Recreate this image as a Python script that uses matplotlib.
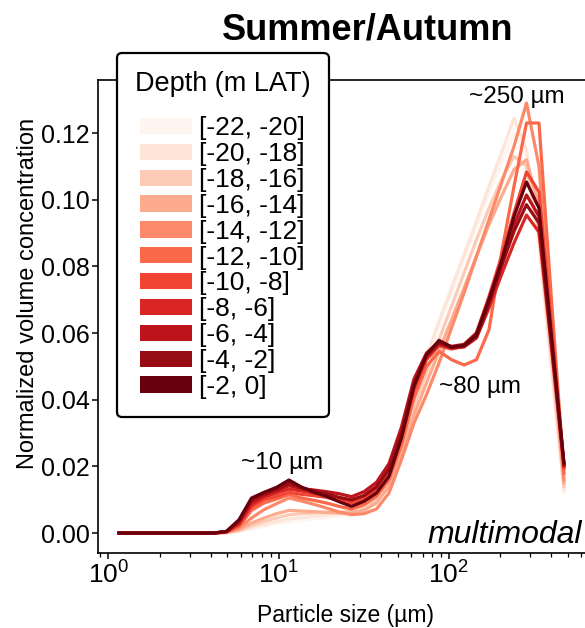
import matplotlib
matplotlib.use("Agg")
import matplotlib.pyplot as plt
from matplotlib.patches import Patch
import numpy as np

plt.rcParams['font.family'] = ['Liberation Sans', 'DejaVu Sans']
plt.rcParams['mathtext.default'] = 'regular'

# particle size bins (um)
sizes = [1.157, 1.279, 1.514, 1.794, 2.124, 2.515, 2.978, 3.526, 4.176, 4.945,
         5.856, 6.935, 8.210, 9.72, 11.51, 13.63, 16.14, 19.11, 22.63, 26.80,
         31.73, 37.57, 44.49, 52.68, 62.39, 73.87, 87.48, 103.6, 122.7, 145.2,
         172.0, 203.7, 241.2, 285.6, 338.1, 400.4, 474.1]

depth_bins = ['[-22, -20]', '[-20, -18]', '[-18, -16]', '[-16, -14]', '[-14, -12]',
              '[-12, -10]', '[-10, -8]', '[-8, -6]', '[-6, -4]', '[-4, -2]', '[-2, 0]']

# normalized volume concentration per depth bin (deepest first)
vc_22_20 = [0, 0, 0, 0, 0, 0, 0, 0, 0,
            0.0001, 0.0004, 0.0012, 0.0020, 0.0028, 0.0034, 0.0038, 0.0042, 0.0046, 0.0050,
            0.0055, 0.0068, 0.0098, 0.0160, 0.0275, 0.0400, 0.0515, 0.0620, 0.0720, 0.0820,
            0.0920, 0.1020, 0.1110, 0.1200, 0.1120, 0.0850, 0.0480, 0.0120]
vc_20_18 = [0, 0, 0, 0, 0, 0, 0, 0, 0,
            0.0001, 0.0006, 0.0016, 0.0026, 0.0034, 0.0042, 0.0046, 0.0050, 0.0054, 0.0058,
            0.0062, 0.0074, 0.0105, 0.0165, 0.0280, 0.0410, 0.0530, 0.0635, 0.0735, 0.0835,
            0.0935, 0.1040, 0.1140, 0.1245, 0.1150, 0.0880, 0.0500, 0.0130]
vc_18_16 = [0, 0, 0, 0, 0, 0, 0, 0, 0,
            0.0001, 0.0008, 0.0022, 0.0035, 0.0045, 0.0055, 0.0058, 0.0060, 0.0062, 0.0063,
            0.0065, 0.0075, 0.0100, 0.0155, 0.0260, 0.0380, 0.0480, 0.0580, 0.0680, 0.0780,
            0.0880, 0.0975, 0.1060, 0.1130, 0.1100, 0.0900, 0.0520, 0.0140]
vc_16_14 = [0, 0, 0, 0, 0, 0, 0, 0, 0,
            0.0002, 0.0010, 0.0030, 0.0045, 0.0058, 0.0068, 0.0066, 0.0064, 0.0062, 0.0060,
            0.0060, 0.0068, 0.0090, 0.0140, 0.0240, 0.0355, 0.0450, 0.0545, 0.0640, 0.0735,
            0.0830, 0.0925, 0.1010, 0.1090, 0.1120, 0.0980, 0.0560, 0.0150]
vc_14_12 = [0, 0, 0, 0, 0, 0, 0, 0, 0,
            0.0002, 0.0015, 0.0045, 0.0070, 0.0088, 0.0105, 0.0096, 0.0086, 0.0075, 0.0063,
            0.0055, 0.0058, 0.0072, 0.0120, 0.0220, 0.0330, 0.0415, 0.0510, 0.0615, 0.0720,
            0.0830, 0.0940, 0.1050, 0.1160, 0.1290, 0.1100, 0.0620, 0.0160]
vc_12_10 = [0, 0, 0, 0, 0, 0, 0, 0, 0,
            0.0003, 0.0020, 0.0068, 0.0090, 0.0102, 0.0115, 0.0105, 0.0098, 0.0090, 0.0080,
            0.0072, 0.0085, 0.0110, 0.0160, 0.0265, 0.0405, 0.0500, 0.0545, 0.0520, 0.0504,
            0.0520, 0.0610, 0.0840, 0.1040, 0.1230, 0.1230, 0.0700, 0.0180]
vc_10_8 = [0, 0, 0, 0, 0, 0, 0, 0, 0,
           0.0003, 0.0024, 0.0078, 0.0100, 0.0110, 0.0122, 0.0116, 0.0112, 0.0107, 0.0098,
           0.0090, 0.0102, 0.0128, 0.0180, 0.0285, 0.0428, 0.0520, 0.0562, 0.0552, 0.0560,
           0.0600, 0.0710, 0.0830, 0.0960, 0.1083, 0.1023, 0.0620, 0.0195]
vc_8_6 = [0, 0, 0, 0, 0, 0, 0, 0, 0,
          0.0004, 0.0028, 0.0085, 0.0108, 0.0120, 0.0132, 0.0126, 0.0120, 0.0114, 0.0106,
          0.0099, 0.0112, 0.0140, 0.0195, 0.0300, 0.0440, 0.0525, 0.0565, 0.0555, 0.0558,
          0.0585, 0.0675, 0.0775, 0.0870, 0.0954, 0.0903, 0.0555, 0.0200]
vc_6_4 = [0, 0, 0, 0, 0, 0, 0, 0, 0,
          0.0004, 0.0032, 0.0092, 0.0113, 0.0127, 0.0142, 0.0133, 0.0129, 0.0124, 0.0118,
          0.0109, 0.0124, 0.0152, 0.0208, 0.0318, 0.0462, 0.0540, 0.0573, 0.0560, 0.0566,
          0.0600, 0.0702, 0.0812, 0.0925, 0.1014, 0.0950, 0.0580, 0.0205]
vc_4_2 = [0, 0, 0, 0, 0, 0, 0, 0, 0,
          0.0005, 0.0036, 0.0100, 0.0118, 0.0131, 0.0149, 0.0136, 0.0126, 0.0118, 0.0107,
          0.0099, 0.0112, 0.0138, 0.0192, 0.0300, 0.0448, 0.0532, 0.0570, 0.0556, 0.0560,
          0.0588, 0.0688, 0.0800, 0.0905, 0.0985, 0.0930, 0.0570, 0.0205]
vc_2_0 = [0, 0, 0, 0, 0, 0, 0, 0, 0,
          0.0005, 0.0040, 0.0105, 0.0122, 0.0137, 0.0159, 0.0138, 0.0122, 0.0110, 0.0094,
          0.0080, 0.0095, 0.0120, 0.0170, 0.0285, 0.0440, 0.0535, 0.0578, 0.0558, 0.0563,
          0.0595, 0.0700, 0.0815, 0.0950, 0.1053, 0.0975, 0.0590, 0.0210]

profiles = [vc_22_20, vc_20_18, vc_18_16, vc_16_14, vc_14_12, vc_12_10,
            vc_10_8, vc_8_6, vc_6_4, vc_4_2, vc_2_0]

colors = plt.cm.Reds(np.linspace(0, 1, len(depth_bins)))

fig = plt.figure(figsize=(5.85, 6.28), dpi=100)
ax = fig.add_axes([0.1675, 0.1194, 0.8462, 0.7532])

for vc, c in zip(profiles, colors):
    ax.plot(sizes, vc, color=c, linewidth=2.3)

ax.set_xscale('log')
ax.set_xlim(0.87, 702)
ax.set_ylim(-0.006, 0.1359)
ax.set_yticks([0, 0.02, 0.04, 0.06, 0.08, 0.10, 0.12])
ax.yaxis.set_major_formatter(plt.FormatStrFormatter('%.2f'))
ax.tick_params(axis='y', which='major', labelsize=18, length=4, width=1.1, pad=2)
ax.tick_params(axis='x', which='major', labelsize=19, length=4.5, width=1.1, pad=1.5)
ax.tick_params(axis='both', which='minor', length=2.8, width=0.9)
for sp in ax.spines.values():
    sp.set_linewidth(1.2)

ax.set_xlabel('Particle size (µm)', fontsize=16.5, labelpad=11)
ax.set_ylabel('Normalized volume concentration', fontsize=17)
ax.yaxis.set_label_coords(-0.12, 0.549)

fig.text(0.629, 0.952, 'Summer/Autumn', fontsize=26, fontweight='bold',
         ha='center', va='center')

ax.text(250, 0.129, '~250 µm', fontsize=17.5, ha='center', va='baseline')
ax.text(152, 0.042, '~80 µm', fontsize=17.5, ha='center', va='baseline')
ax.text(10.5, 0.0192, '~10 µm', fontsize=17.5, ha='center', va='baseline')
ax.text(0.978, 0.021, 'multimodal', fontsize=23, style='italic',
        ha='right', va='baseline', transform=ax.transAxes)

handles = [Patch(facecolor=c, edgecolor='none') for c in colors]
leg = fig.legend(handles, depth_bins, title='Depth (m LAT)', loc='upper left',
                 bbox_to_anchor=(0.2, 0.9156), bbox_transform=fig.transFigure,
                 borderaxespad=0, fontsize=19, title_fontsize=19.5,
                 handlelength=1.97, handleheight=0.57, handletextpad=0.27,
                 labelspacing=0.07, borderpad=0.68, framealpha=1, fancybox=True)
leg.get_frame().set_edgecolor('black')
leg.get_frame().set_linewidth(1.6)
# extra room between the legend title and the entries
leg._legend_box.sep = 14

fig.savefig('out.png', dpi=100)
